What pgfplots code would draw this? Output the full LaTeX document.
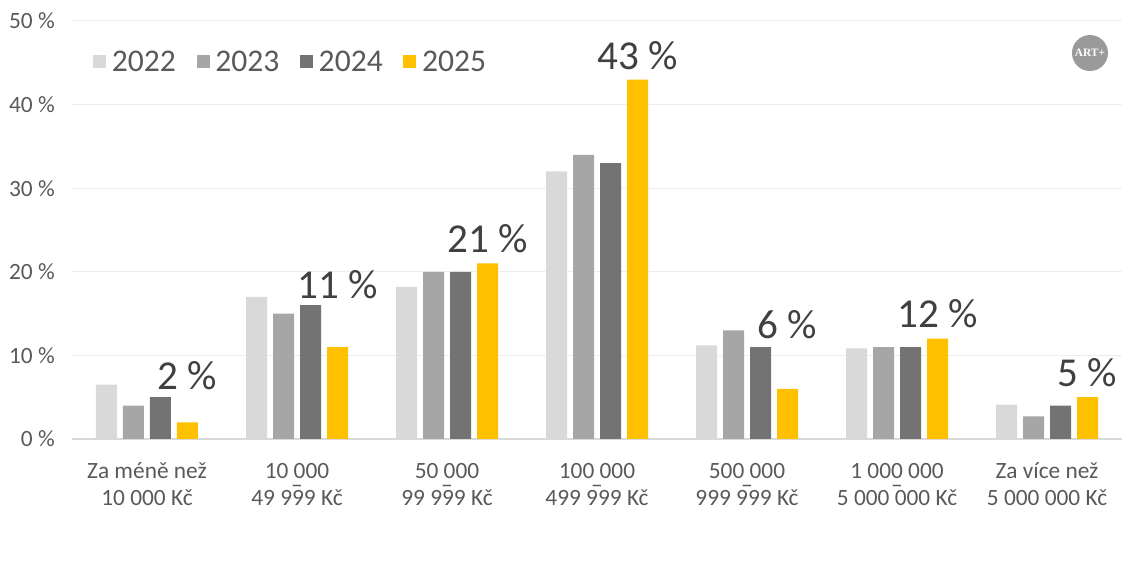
\documentclass[border=0pt]{standalone}
\usepackage{pgfplots}
\pgfplotsset{compat=1.18}
\usepackage{pgfplotstable}
\usepackage{fontspec}
\setmainfont{Carlito}
\newfontfamily\logofont{Liberation Serif}

\definecolor{c22}{HTML}{D9D9D9}
\definecolor{c23}{HTML}{A6A6A6}
\definecolor{c24}{HTML}{737373}
\definecolor{c25}{HTML}{FFC000}
\definecolor{txt}{HTML}{595959}
\definecolor{lbl}{HTML}{404040}
\definecolor{gridc}{HTML}{EDEDED}
\definecolor{basec}{HTML}{D9D9D9}
\definecolor{logoc}{HTML}{9A9A9A}

% share of respondents by price band, per survey year; off = label lift (pt)
\pgfplotstableread{
x  y22   y23  y24  y25  off
0  6.5   4    5    2    24.75
1  17    15   16   11   36.75
2  18.2  20   20   21   8.25
3  32    34   33   43   7.5
4  11.2  13   11   6    37.5
5  10.85 11   11   12   8.25
6  4.1   2.7  4    5    8.25
}\data

\pgfplotsset{sq legend/.style={legend image code/.code={\fill[##1] (0pt,-4.875pt) rectangle (9.75pt,4.875pt);}}}

\begin{document}
\begin{tikzpicture}
\useasboundingbox (-54pt,-96pt) rectangle (797.25pt,329.25pt);
\begin{axis}[
  at={(0,0)}, anchor=south west,
  scale only axis, width=787.5pt, height=313.5pt,
  xmin=-0.5, xmax=6.5, ymin=0, ymax=50,
  ybar=4.5pt, bar width=15.75pt,
  axis line style={draw=none},
  major tick length=0pt,
  xtick={0,...,6},
  xticklabels={
    {\strut Za méně než\\[0.75pt]10 000 Kč},
    {\strut 10 000\\[-9.25pt]–\\[-9.5pt]49 999 Kč},
    {\strut 50 000\\[-9.25pt]–\\[-9.5pt]99 999 Kč},
    {\strut 100 000\\[-9.25pt]–\\[-9.5pt]499 999 Kč},
    {\strut 500 000\\[-9.25pt]–\\[-9.5pt]999 999 Kč},
    {\strut 1 000 000\\[-9.25pt]–\\[-9.5pt]5 000 000 Kč},
    {\strut Za více než\\[0.75pt]5 000 000 Kč}},
  xticklabel style={font=\fontsize{17.5}{19.5}\selectfont, text=txt, align=center,
    anchor=north, inner sep=0pt, yshift=-15.9pt},
  ytick={10,20,30,40,50},
  yticklabels={10 \%,20 \%,30 \%,40 \%,50 \%},
  extra y ticks={0}, extra y tick labels={0 \%},
  extra y tick style={grid style={draw=basec, line width=0.9pt}},
  yticklabel style={font=\fontsize{17.5}{20}\selectfont, text=txt, anchor=east,
    inner sep=0pt, xshift=-12.75pt},
  ymajorgrids, grid style={draw=gridc, line width=0.75pt},
  /pgf/number format/assume math mode=true,
  legend columns=4,
  legend entries={2022,2023,2024,2025},
  legend style={draw=none, fill=none, at={(0.02,0.902)}, anchor=west, inner sep=0pt,
    font=\fontsize{23.7}{28}\selectfont, text=txt,
    /tikz/every odd column/.append style={column sep=2.25pt},
    /tikz/every even column/.append style={column sep=13.5pt}},
  clip=false,
]
\addplot[fill=c22, draw=none, sq legend] table[x=x, y=y22] {\data};
\addplot[fill=c23, draw=none, sq legend] table[x=x, y=y23] {\data};
\addplot[fill=c24, draw=none, sq legend] table[x=x, y=y24] {\data};
\addplot[fill=c25, draw=none, sq legend,
  visualization depends on={\thisrow{off} \as \labeloff},
  point meta=y,
  nodes near coords={\pgfmathprintnumber{\pgfplotspointmeta}~\%},
  every node near coord/.append style={font=\fontsize{30.8}{34}\selectfont, text=lbl,
    anchor=base, inner sep=0pt, yshift=\labeloff pt}]
  table[x=x, y=y25] {\data};
\node[circle, fill=logoc, minimum size=27pt, inner sep=0pt, text=white,
  font=\logofont\bfseries\fontsize{8.5}{9}\selectfont] at (rel axis cs:0.9695,0.9234) {ART+};
\end{axis}
\end{tikzpicture}
\end{document}
